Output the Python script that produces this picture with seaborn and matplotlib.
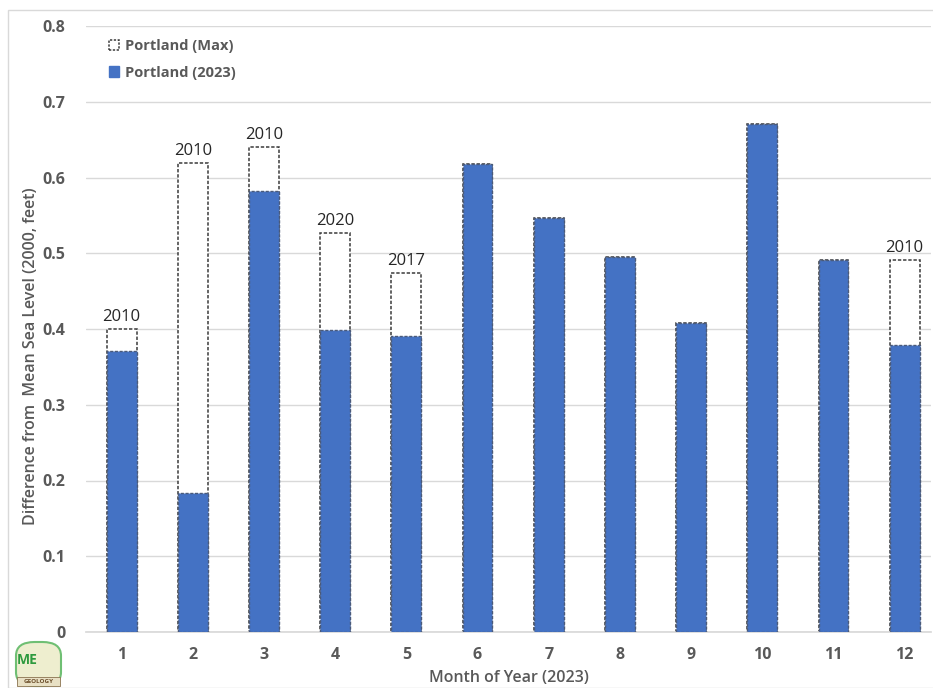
import matplotlib
matplotlib.use("Agg")
import matplotlib.pyplot as plt
import seaborn as sns
import pandas as pd
from matplotlib.patches import Patch, FancyBboxPatch, Rectangle

# Monthly sea level at Portland, difference from the 2000 mean (feet)
months = ["1", "2", "3", "4", "5", "6", "7", "8", "9", "10", "11", "12"]
level_2023 = [0.371, 0.183, 0.582, 0.399, 0.391, 0.618, 0.547, 0.495, 0.408, 0.671, 0.491, 0.379]
level_max = [0.400, 0.619, 0.640, 0.527, 0.474, 0.618, 0.547, 0.495, 0.408, 0.671, 0.491, 0.491]
max_year = ["2010", "2010", "2010", "2020", "2017", "", "", "", "", "", "", "2010"]

df = pd.DataFrame({"month": months, "max": level_max, "y2023": level_2023, "year": max_year})

sns.set_theme(style="white")
plt.rcParams["font.family"] = ["Open Sans", "DejaVu Sans"]

W, H = 933, 688
fig = plt.figure(figsize=(W / 100, H / 100), dpi=100)
ax = fig.add_axes([86 / W, 1 - 632 / H, (931 - 86) / W, (632 - 26) / H])

text_gray = "#595959"
blue = "#4472C4"
dash = (0, (2.2, 1.2))

# Record-high outline bars
sns.barplot(data=df, x="month", y="max", order=months, color="white", width=0.42,
            edgecolor="#3a3a3a", linewidth=1.1, linestyle=dash, ax=ax, zorder=2)
n_max = len(ax.patches)
# 2023 bars drawn over the outlines
sns.barplot(data=df, x="month", y="y2023", order=months, color=blue, saturation=1,
            width=0.42, edgecolor="#4a5a7a", linewidth=1.0, linestyle=dash, ax=ax, zorder=3)
for p in ax.patches[:n_max]:
    p.set_facecolor("white")

# Year of record above each outlined bar
for i, (v, yr) in enumerate(zip(level_max, max_year)):
    if yr:
        ax.text(i, v + 0.005, yr, ha="center", va="bottom", fontsize=12,
                color="#262626", zorder=4)

ax.set_ylim(0, 0.8)
ax.set_xlim(-0.5, 11.37)
ax.set_yticks([0, 0.1, 0.2, 0.3, 0.4, 0.5, 0.6, 0.7, 0.8])
ax.set_yticklabels(["0", "0.1", "0.2", "0.3", "0.4", "0.5", "0.6", "0.7", "0.8"])
ax.yaxis.grid(True, color="#d9d9d9", linewidth=1.0, zorder=0)
ax.set_axisbelow(True)
for s in ["top", "right", "left"]:
    ax.spines[s].set_visible(False)
ax.spines["bottom"].set_color("#d9d9d9")
ax.tick_params(axis="both", length=0, labelsize=11.5, labelcolor=text_gray)
ax.tick_params(axis="y", pad=15)
ax.tick_params(axis="x", pad=11)
for lab in ax.get_xticklabels() + ax.get_yticklabels():
    lab.set_fontweight("bold")

ax.set_xlabel("Month of Year (2023)", fontsize=11.5, color=text_gray,
              fontweight="semibold", labelpad=5)
ax.set_ylabel("Difference from  Mean Sea Level (2000, feet)", fontsize=11.5,
              color=text_gray, fontweight="semibold")
ax.yaxis.set_label_coords(-0.056, 0.455)

handles = [
    Patch(facecolor="white", edgecolor="#3a3a3a", linestyle=(0, (1.5, 1)), linewidth=1.1,
          label="Portland (Max)"),
    Patch(facecolor=blue, edgecolor=blue, label="Portland (2023)"),
]
leg = ax.legend(handles=handles, loc="upper left", bbox_to_anchor=(0.012, 1.0),
                frameon=False, fontsize=10.5, handlelength=0.7, handleheight=0.7,
                handletextpad=0.4, labelspacing=0.85)
for t in leg.get_texts():
    t.set_color(text_gray)
    t.set_fontweight("bold")

# Chart frame
fig.patches.append(Rectangle((8 / W, 0), 1.0, 1 - 10 / H, transform=fig.transFigure,
                             fill=False, edgecolor="#d9d9d9", linewidth=1.0))

# Survey badge in the lower-left corner
fig.patches.append(FancyBboxPatch((16 / W, 2 / H), 45 / W, 44 / H,
                                  boxstyle="round,pad=0,rounding_size=0.02",
                                  transform=fig.transFigure, facecolor="#eeeecf",
                                  edgecolor="#6fbf73", linewidth=1.5))
fig.patches.append(Rectangle((17 / W, 2 / H), 43 / W, 9 / H, transform=fig.transFigure,
                             facecolor="#e8e0c4", edgecolor="#8a7350", linewidth=0.6))
fig.text(38.5 / W, 6.5 / H, "GEOLOGY", fontsize=4.5, color="#6b4e2a",
         fontweight="bold", ha="center", va="center")
fig.text(27 / W, 28 / H, "ME", fontsize=10, color="#2e9a3e", fontweight="bold",
         ha="center", va="center")

fig.savefig("out.png", dpi=100)
